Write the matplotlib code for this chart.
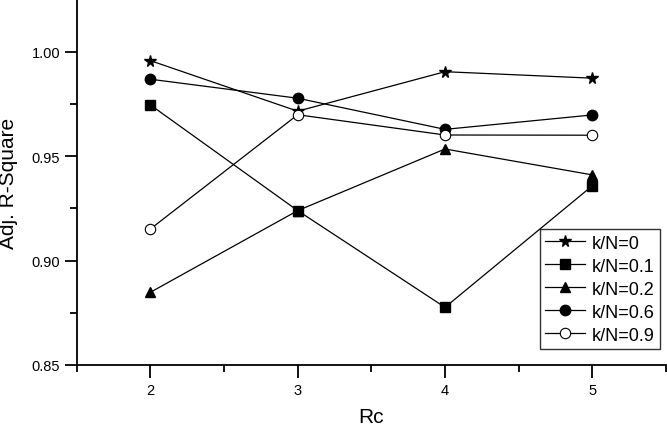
import matplotlib
matplotlib.use("Agg")
import matplotlib.pyplot as plt
from matplotlib.ticker import MultipleLocator

plt.rcParams['font.family'] = ['Liberation Sans', 'DejaVu Sans']

rc = [2, 3, 4, 5]
k0 = [0.9957, 0.9715, 0.9904, 0.9873]
k01 = [0.9745, 0.9239, 0.8776, 0.9358]
k02 = [0.8848, 0.9239, 0.9534, 0.9410]
k06 = [0.9868, 0.9777, 0.9628, 0.9697]
k09 = [0.9151, 0.9698, 0.9601, 0.9600]
labels = ['k/N=0', 'k/N=0.1', 'k/N=0.2', 'k/N=0.6', 'k/N=0.9']

fig = plt.figure(figsize=(6.67, 4.27), dpi=100)
ax = fig.add_axes([76.7/667, 1-366/427, (666-76.7)/667, 366/427])

lw = 0.9
ms = 6.5
ax.plot(rc, k0, '-', color='black', lw=lw, marker='*', ms=ms+2, mfc='black', mec='black', label=labels[0])
ax.plot(rc, k01, '-', color='black', lw=lw, marker='s', ms=ms, mfc='black', mec='black', label=labels[1])
ax.plot(rc, k02, '-', color='black', lw=lw, marker='^', ms=ms+1, mfc='black', mec='black', label=labels[2])
ax.plot(rc, k06, '-', color='black', lw=lw, marker='o', ms=ms+1, mfc='black', mec='black', label=labels[3])
ax.plot(rc, k09, '-', color='black', lw=lw, marker='o', ms=ms+1, mfc='white', mec='black', mew=0.8, label=labels[4])

ax.set_xlim(1.5, 5.5)
ax.set_ylim(0.85, 1.0252)
ax.set_xticks(rc)
ax.set_yticks([0.85, 0.90, 0.95, 1.00])
ax.set_yticklabels(['0.85', '0.90', '0.95', '1.00'])
ax.xaxis.set_minor_locator(MultipleLocator(0.5))
ax.yaxis.set_minor_locator(MultipleLocator(0.025))

for s in ['top', 'right']:
    ax.spines[s].set_visible(False)
for s in ['left', 'bottom']:
    ax.spines[s].set_linewidth(1.3)

ax.tick_params(axis='both', which='major', direction='out', length=9, width=1.3, labelsize=10.5)
ax.tick_params(axis='both', which='minor', direction='out', length=5, width=1.3)
ax.tick_params(axis='y', which='major', pad=3)
ax.tick_params(axis='x', which='major', pad=4)

ax.set_xlabel('Rc', fontsize=15, labelpad=7)
ax.set_ylabel('Adj. R-Square', fontsize=15, labelpad=10)

leg = ax.legend(loc='lower right', bbox_to_anchor=(0.9903, 0.0437), borderaxespad=0,
                fontsize=13, frameon=True, fancybox=False, edgecolor='black',
                handlelength=2.2, handletextpad=0.4, labelspacing=0.33, borderpad=0.3)
leg.get_frame().set_linewidth(1.0)

fig.savefig('out.png', dpi=100)
